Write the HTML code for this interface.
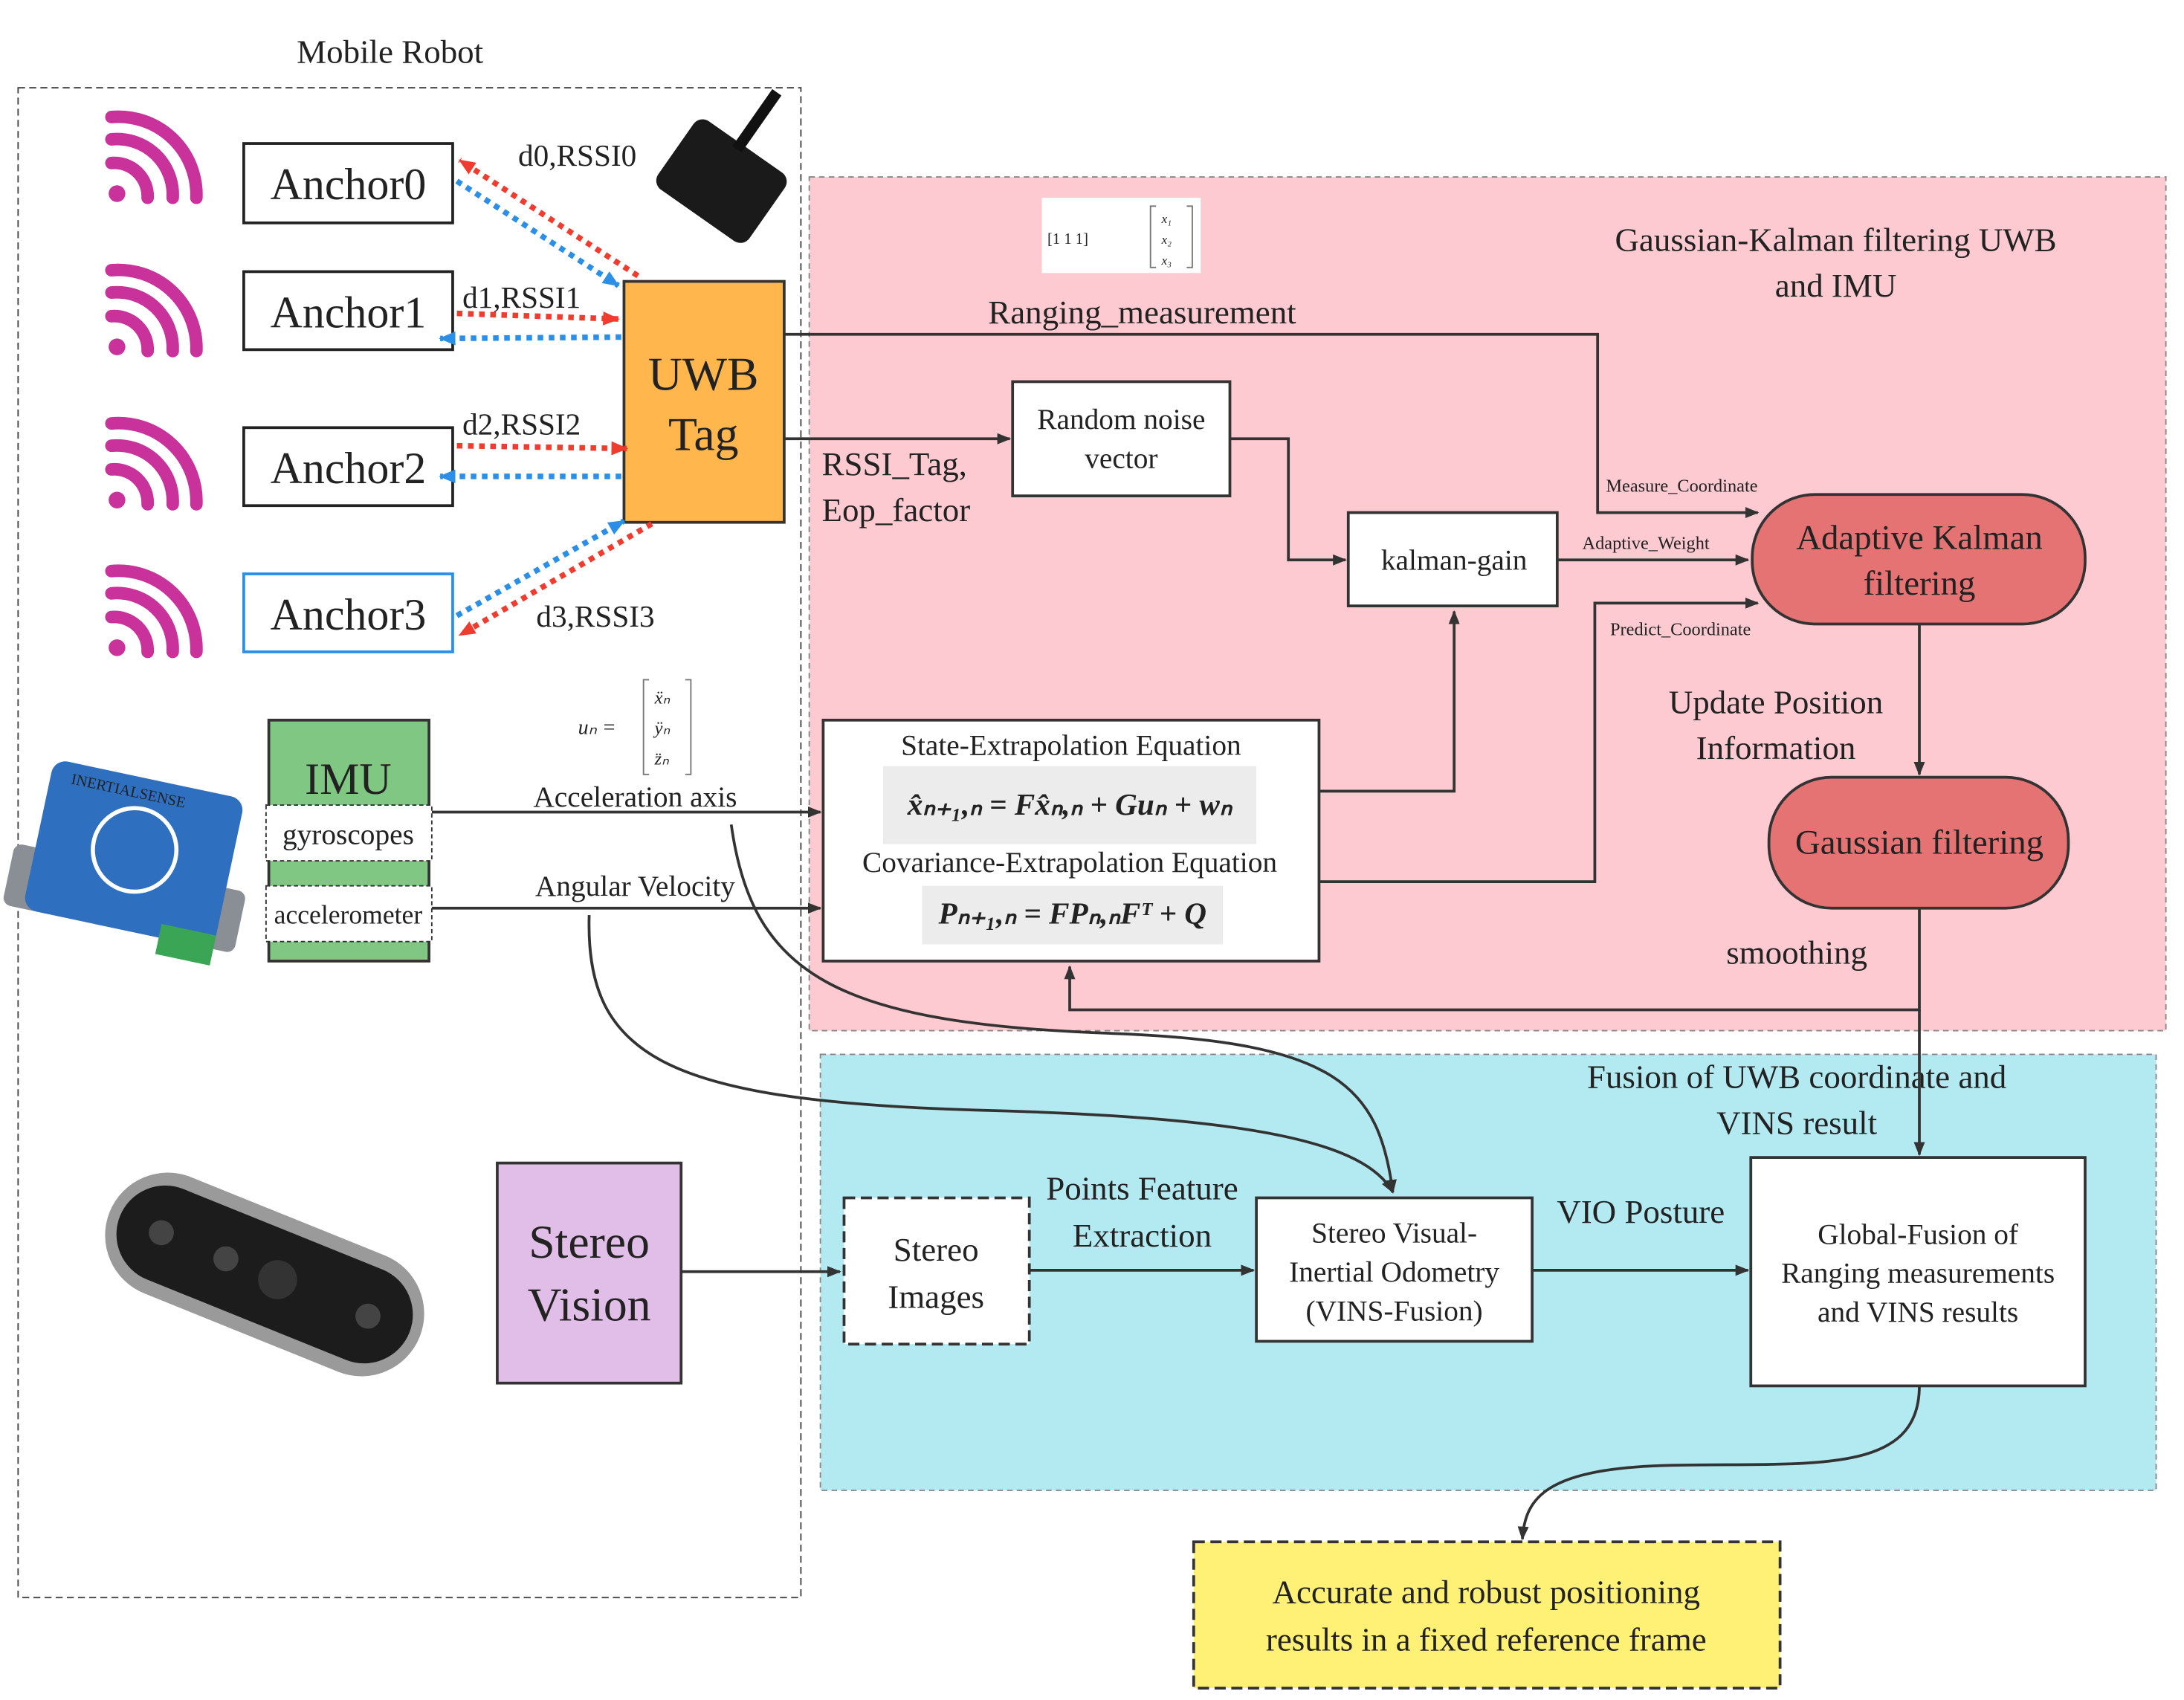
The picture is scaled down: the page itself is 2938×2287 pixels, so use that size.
<!DOCTYPE html>
<html><head><meta charset="utf-8"><style>
html,body{margin:0;padding:0;background:#fff}
svg{display:block}
text{font-family:"Liberation Serif",serif;fill:#222}
</style></head><body>
<svg width="2938" height="2287" viewBox="0 0 1568 1220.5" xmlns="http://www.w3.org/2000/svg">
<defs>
<marker id="a" markerWidth="10" markerHeight="8" refX="9" refY="4" orient="auto" markerUnits="userSpaceOnUse"><path d="M0,0L10,4L0,8z" fill="#333"/></marker>
<marker id="r" markerWidth="12" markerHeight="10" refX="11" refY="5" orient="auto" markerUnits="userSpaceOnUse"><path d="M0,0L12,5L0,10z" fill="#f03c2e"/></marker>
<marker id="b" markerWidth="12" markerHeight="10" refX="11" refY="5" orient="auto" markerUnits="userSpaceOnUse"><path d="M0,0L12,5L0,10z" fill="#2b8fe8"/></marker>
<g id="wifi" fill="none" stroke="#c8329a" stroke-width="9" stroke-linecap="round">
<circle cx="8" cy="57" r="6" fill="#c8329a" stroke="none"/>
<path d="M4,35 A24,24 0 0 1 30,60"/><path d="M4,18 A40,40 0 0 1 48,60"/><path d="M4,2 A56,56 0 0 1 65,60"/>
</g>
</defs>
<rect width="1568" height="1221" fill="#fff"/>
<!-- regions -->
<rect x="581" y="127" width="974" height="613" fill="#fdcad1" stroke="#888" stroke-dasharray="4,3"/>
<rect x="589" y="757" width="959" height="313" fill="#b3e9f1" stroke="#888" stroke-dasharray="4,3"/>
<rect x="13" y="63" width="562" height="1084" fill="none" stroke="#444" stroke-dasharray="5,3"/>
<text x="280" y="45" font-size="24" text-anchor="middle">Mobile Robot</text>

<use href="#wifi" x="76" y="82"/><use href="#wifi" x="76" y="192"/><use href="#wifi" x="76" y="302"/><use href="#wifi" x="76" y="408"/>

<g font-size="32" text-anchor="middle">
<rect x="175" y="103" width="150" height="57" fill="#fff" stroke="#222" stroke-width="2"/><text x="250" y="143">Anchor0</text>
<rect x="175" y="195" width="150" height="56" fill="#fff" stroke="#222" stroke-width="2"/><text x="250" y="235">Anchor1</text>
<rect x="175" y="307" width="150" height="56" fill="#fff" stroke="#222" stroke-width="2"/><text x="250" y="347">Anchor2</text>
<rect x="175" y="412" width="150" height="56" fill="#fff" stroke="#2b8fe8" stroke-width="2"/><text x="250" y="452">Anchor3</text>
<rect x="448" y="202" width="115" height="173" fill="#ffb74d" stroke="#333" stroke-width="2"/>
<text x="505" y="280" font-size="34">UWB</text><text x="505" y="323" font-size="34">Tag</text>
</g>
<!-- device -->
<g transform="translate(518,130) rotate(35)"><rect x="-40" y="-30" width="80" height="60" rx="8" fill="#1a1a1a"/><rect x="-8" y="-75" width="8" height="50" fill="#111"/></g>

<g stroke-width="4" stroke-dasharray="4,4" fill="none">
<path d="M458,198 L330,115" stroke="#f03c2e" marker-end="url(#r)"/>
<path d="M328,130 L444,205" stroke="#2b8fe8" marker-end="url(#b)"/>
<path d="M328,225 L444,229" stroke="#f03c2e" marker-end="url(#r)"/>
<path d="M446,242 L316,243" stroke="#2b8fe8" marker-end="url(#b)"/>
<path d="M328,320 L450,322" stroke="#f03c2e" marker-end="url(#r)"/>
<path d="M446,342 L316,342" stroke="#2b8fe8" marker-end="url(#b)"/>
<path d="M328,442 L448,374" stroke="#2b8fe8" marker-end="url(#b)"/>
<path d="M468,376 L330,456" stroke="#f03c2e" marker-end="url(#r)"/>
</g>
<g font-size="22"><text x="372" y="119">d0,RSSI0</text><text x="332" y="221">d1,RSSI1</text><text x="332" y="312">d2,RSSI2</text><text x="385" y="450">d3,RSSI3</text></g>

<!-- matrix -->
<rect x="748" y="142" width="114" height="54" fill="#fff"/>
<text x="752" y="175" font-size="11" fill="#777">[1  1  1]</text>
<path d="M830,148 h-4 v44 h4 M852,148 h4 v44 h-4" stroke="#777" fill="none"/>
<text x="834" y="160" font-size="9" fill="#777" font-style="italic">x₁</text><text x="834" y="175" font-size="9" fill="#777" font-style="italic">x₂</text><text x="834" y="190" font-size="9" fill="#777" font-style="italic">x₃</text>

<g font-size="24" text-anchor="middle"><text x="1318" y="180">Gaussian-Kalman filtering UWB</text><text x="1318" y="213">and IMU</text>
<text x="820" y="232">Ranging_measurement</text>
<text x="1275" y="512">Update Position</text><text x="1275" y="545">Information</text>
<text x="1290" y="692">smoothing</text>
<text x="1290" y="781">Fusion of UWB coordinate and</text><text x="1290" y="814">VINS result</text>
<text x="820" y="861">Points Feature</text><text x="820" y="895">Extraction</text>
<text x="1178" y="878">VIO Posture</text>
</g>
<g font-size="24"><text x="590" y="341">RSSI_Tag,</text><text x="590" y="374">Eop_factor</text></g>

<g stroke="#333" stroke-width="2" fill="none">
<path d="M563,240 H1147 V368 H1262" marker-end="url(#a)"/>
<path d="M563,315 H725" marker-end="url(#a)"/>
<path d="M883,315 H925 V402 H966" marker-end="url(#a)"/>
<path d="M1118,402 H1255" marker-end="url(#a)"/>
<path d="M1378,448 V556" marker-end="url(#a)"/>
<path d="M1378,652 V725 H768 V694" marker-end="url(#a)"/>
<path d="M1378,725 V829" marker-end="url(#a)"/>
<path d="M947,568 H1044 V439" marker-end="url(#a)"/>
<path d="M947,633 H1145 V433 H1262" marker-end="url(#a)"/>
<path d="M310,583 H589" marker-end="url(#a)"/>
<path d="M310,652 H589" marker-end="url(#a)"/>
<path d="M525,592 C540,700 600,735 800,742 C960,748 990,780 1000,856" marker-end="url(#a)"/>
<path d="M423,657 C420,760 480,790 700,797 C900,802 980,820 1000,856" marker-end="url(#a)"/>
<path d="M489,913 H603" marker-end="url(#a)"/>
<path d="M739,912 H900" marker-end="url(#a)"/>
<path d="M1100,912 H1255" marker-end="url(#a)"/>
<path d="M1378,995 C1378,1060 1300,1050 1200,1052 C1110,1054 1095,1075 1093,1105" marker-end="url(#a)"/>
</g>
<g font-size="13"><text x="1153" y="353">Measure_Coordinate</text><text x="1136" y="394">Adaptive_Weight</text><text x="1156" y="456">Predict_Coordinate</text></g>

<g stroke="#333" stroke-width="2">
<rect x="727" y="274" width="156" height="82" fill="#fff"/>
<rect x="968" y="368" width="150" height="67" fill="#fff"/>
<rect x="1258" y="355" width="239" height="93" rx="45" fill="#e57373"/>
<rect x="1270" y="558" width="215" height="94" rx="45" fill="#e57373"/>
<rect x="591" y="517" width="356" height="173" fill="#fff"/>
<rect x="193" y="517" width="115" height="173" fill="#81c784"/>
<rect x="357" y="835" width="132" height="158" fill="#e1bee7"/>
<rect x="606" y="860" width="133" height="105" fill="#fff" stroke-dasharray="8,4"/>
<rect x="902" y="860" width="198" height="103" fill="#fff"/>
<rect x="1257" y="831" width="240" height="164" fill="#fff"/>
<rect x="857" y="1107" width="421" height="105" fill="#fff176" stroke-dasharray="8,4"/>
</g>
<rect x="191" y="578" width="119" height="40" fill="#fff" stroke="#333" stroke-dasharray="3,2"/>
<rect x="191" y="636" width="119" height="40" fill="#fff" stroke="#333" stroke-dasharray="3,2"/>
<rect x="634" y="550" width="268" height="56" fill="#ececec"/>
<rect x="662" y="636" width="216" height="42" fill="#ececec"/>

<g text-anchor="middle" font-size="21">
<text x="805" y="308">Random noise</text><text x="805" y="336">vector</text>
<text x="1044" y="409">kalman-gain</text>
<text x="1378" y="394" font-size="25">Adaptive Kalman</text><text x="1378" y="427" font-size="25">filtering</text>
<text x="1378" y="613" font-size="25">Gaussian filtering</text>
<text x="769" y="542">State-Extrapolation Equation</text>
<text x="768" y="626">Covariance-Extrapolation Equation</text>
<text x="768" y="585" font-size="22" font-weight="bold" font-style="italic">x̂ₙ₊₁,ₙ = Fx̂ₙ,ₙ + Guₙ + wₙ</text>
<text x="770" y="663" font-size="22" font-weight="bold" font-style="italic">Pₙ₊₁,ₙ = FPₙ,ₙFᵀ + Q</text>
<text x="250" y="570" font-size="32">IMU</text>
<text x="250" y="606">gyroscopes</text><text x="250" y="663" font-size="19">accelerometer</text>
<text x="456" y="579">Acceleration  axis</text><text x="456" y="643">Angular Velocity</text>
<text x="423" y="903" font-size="34">Stereo</text><text x="423" y="948" font-size="34">Vision</text>
<text x="672" y="905" font-size="24">Stereo</text><text x="672" y="939" font-size="24">Images</text>
<text x="1001" y="892">Stereo Visual-</text><text x="1001" y="920">Inertial Odometry</text><text x="1001" y="948">(VINS-Fusion)</text>
<text x="1377" y="893">Global-Fusion of</text><text x="1377" y="921">Ranging measurements</text><text x="1377" y="949">and VINS results</text>
<text x="1067" y="1151" font-size="24">Accurate and robust positioning</text><text x="1067" y="1185" font-size="24">results in  a fixed reference frame</text>
</g>
<!-- u_n -->
<text x="415" y="527" font-size="15" fill="#777" font-style="italic">uₙ =</text>
<path d="M466,488 h-4 v68 h4 M492,488 h4 v68 h-4" stroke="#777" fill="none"/>
<g font-size="13" fill="#777" font-style="italic"><text x="470" y="505">ẍₙ</text><text x="470" y="527">ÿₙ</text><text x="470" y="549">z̈ₙ</text></g>

<!-- IMU sensor -->
<g transform="translate(95,618) rotate(12)">
<rect x="-85" y="5" width="170" height="45" rx="6" fill="#8a8f96"/>
<rect x="-70" y="-60" width="140" height="110" rx="10" fill="#2f6fc0"/>
<circle cx="0" cy="-8" r="30" fill="none" stroke="#fff" stroke-width="3"/>
<text x="-55" y="-45" font-size="11" fill="#fff" font-family="Liberation Sans">INERTIALSENSE</text>
<rect x="30" y="40" width="40" height="22" fill="#3aa655"/>
</g>
<!-- camera -->
<g transform="translate(190,915) rotate(22)">
<rect x="-120" y="-45" width="240" height="90" rx="45" fill="#9a9a9a"/>
<rect x="-112" y="-35" width="224" height="70" rx="35" fill="#1c1c1c"/>
<circle cx="-80" cy="0" r="9" fill="#444"/><circle cx="-30" cy="0" r="9" fill="#444"/><circle cx="10" cy="0" r="14" fill="#333"/><circle cx="80" cy="0" r="9" fill="#444"/>
</g>
</svg>
</body></html>
